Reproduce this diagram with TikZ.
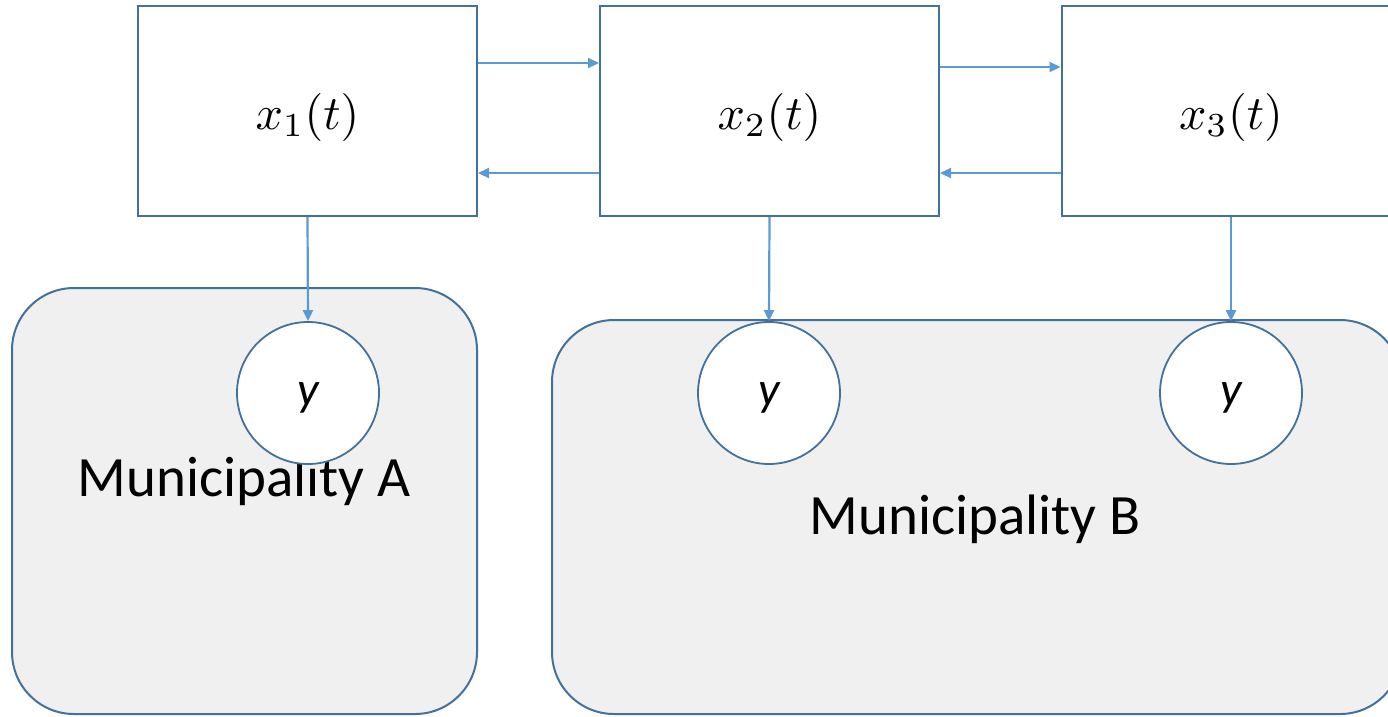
\documentclass[tikz,border=0pt]{standalone}
\usepackage{graphicx}
\usepackage{fontspec}
\setmainfont{Carlito}
\usetikzlibrary{arrows.meta,calc}
\definecolor{edge}{HTML}{41719C}
\definecolor{arrowc}{HTML}{5B9BD5}
\definecolor{panel}{HTML}{F0F0F0}
\newcommand{\bigmath}[1]{\raisebox{-18pt}[0pt][0pt]{\scalebox{4.8}{$#1$}}}
\newcommand{\obsy}{\raisebox{-12pt}[0pt][0pt]{y}}
\tikzset{
  varbox/.style={draw=edge, line width=2pt, fill=white, minimum width=339pt, minimum height=210pt, inner sep=0pt},
  obs/.style={circle, draw=edge, line width=1.8pt, fill=white, minimum size=142pt, inner sep=0pt, font=\fontsize{48}{48}\selectfont\itshape},
  muni/.style={draw=edge, line width=2pt, fill=panel, rounded corners=62pt, inner sep=0pt},
  lbl/.style={font=\fontsize{57}{57}\selectfont, inner sep=0pt},
  arr/.style={draw=arrowc, line width=2.2pt, -{Triangle[length=11pt,width=10pt]}}
}
\begin{document}
\begin{tikzpicture}[x=1pt,y=-1pt]
\useasboundingbox (0,0) rectangle (1388,716);
\clip (0,0) rectangle (1388,716);
% municipality panels
\node[muni, minimum width=465pt, minimum height=426pt] (mA) at (244.5,501) {};
\node[muni, minimum width=850pt, minimum height=394pt] (mB) at (977,517) {};
\node[lbl] (lA) at (244,481) {Municipality A};
\node[lbl] (lB) at (975,519) {Municipality B};
% state boxes
\node[varbox] (b1) at (307.5,111) {\bigmath{x_1(t)}};
\node[varbox] (b2) at (769.5,111) {\bigmath{x_2(t)}};
\node[varbox] (b3) at (1231,111) {\bigmath{x_3(t)}};
% observations
\node[obs] (c1) at (308,393) {\obsy};
\node[obs] (c2) at (769,393) {\obsy};
\node[obs] (c3) at (1231,393) {\obsy};
% horizontal connectors
\draw[arr] ($(b1.north east)+(0,58)$) -- ($(b2.north west)+(0,58)$);
\draw[arr] ($(b2.north east)+(0,62)$) -- ($(b3.north west)+(0,62)$);
\draw[arr] ($(b2.south west)+(0,-44)$) -- ($(b1.south east)+(0,-44)$);
\draw[arr] ($(b3.south west)+(0,-44)$) -- ($(b2.south east)+(0,-44)$);
% vertical connectors
\draw[arr] (b1.south) -- (c1.north);
\draw[arr] (b2.south) -- (c2.north);
\draw[arr] (b3.south) -- (c3.north);
\end{tikzpicture}
\end{document}
